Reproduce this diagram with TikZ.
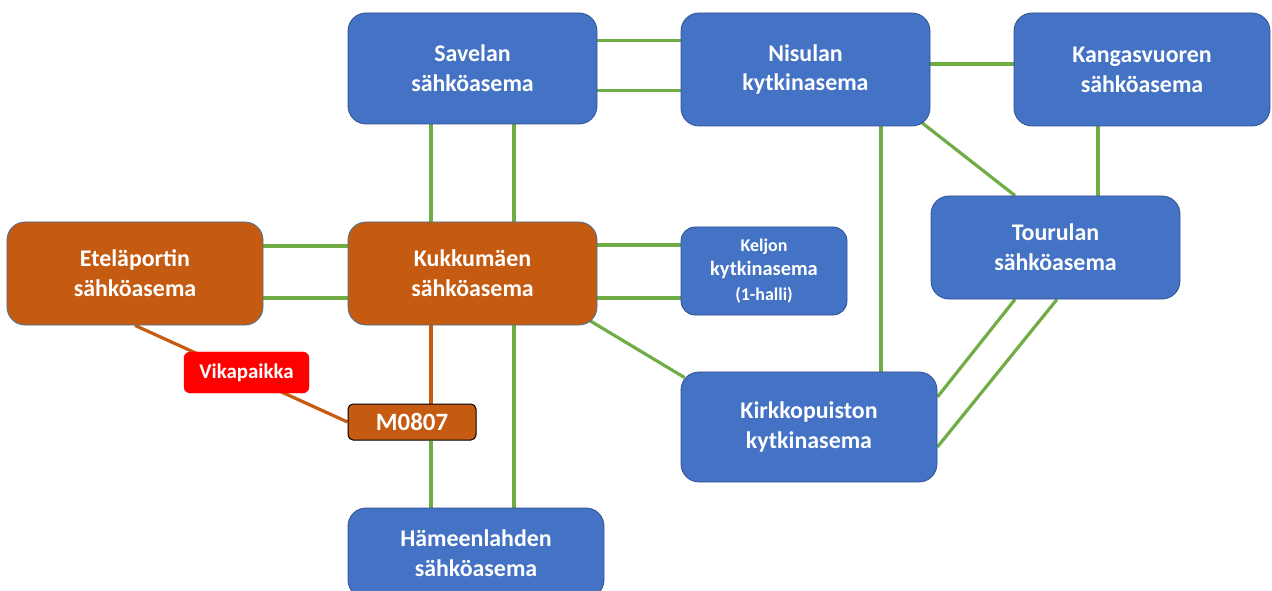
\documentclass[tikz,border=0pt]{standalone}
\usepackage{fontspec}
\setmainfont{Carlito}
\usepackage{xcolor}
\definecolor{stn}{RGB}{68,114,196}
\definecolor{stnB}{RGB}{47,82,143}
\definecolor{flt}{RGB}{197,90,17}
\definecolor{fltB}{RGB}{65,113,156}
\definecolor{lnk}{RGB}{112,173,71}
\definecolor{vik}{RGB}{255,0,0}
\usetikzlibrary{positioning,calc,backgrounds}

\begin{document}
\begin{tikzpicture}[x=1bp, y=-1bp,
  font=\bfseries\fontsize{24}{30}\selectfont,
  station/.style={draw=stnB, line width=0.8bp, fill=stn, text=white, rounded corners=18bp, align=center, inner sep=2bp},
  hit/.style={station, draw=fltB, fill=flt},
  switchbox/.style={draw=black, line width=1bp, fill=flt, text=white, rounded corners=5bp, inner sep=1bp, font=\bfseries\fontsize{25}{30}\selectfont},
  faultbox/.style={draw=vik, fill=vik, text=white, rounded corners=6bp, inner sep=1bp, font=\bfseries\fontsize{21}{24}\selectfont},
  link/.style={draw=lnk, line width=3.2bp},
  feed/.style={draw=flt, line width=3.2bp}]
\useasboundingbox (0,0) rectangle (1272,591);
% stations
\node[station, minimum width=249bp, minimum height=111bp] (sav) at (472.5,68.5) {Savelan\\sähköasema};
\node[station, minimum width=249bp, minimum height=113bp] (nis) at (805.5,69.5) {Nisulan\\kytkinasema};
\node[station, minimum width=256bp, minimum height=113bp] (kan) at (1142,69.5) {Kangasvuoren\\sähköasema};
\node[hit, minimum width=256bp, minimum height=103bp] (ete) at (135,273.5) {Eteläportin\\sähköasema};
\node[hit, minimum width=249bp, minimum height=103bp] (kuk) at (472.5,273.5) {Kukkumäen\\sähköasema};
\node[station, rounded corners=14bp, minimum width=166bp, minimum height=88bp,
  font=\bfseries\fontsize{20.5}{24.5}\selectfont] (kel) at (764,271)
  {{\fontsize{18}{24.5}\selectfont Keljon}\\kytkinasema\\{\fontsize{18}{24.5}\selectfont (1-halli)}};
\node[station, minimum width=249bp, minimum height=103bp] (tou) at (1055.5,247.5) {Tourulan\\sähköasema};
\node[station, minimum width=256bp, minimum height=110bp] (kir) at (809,427) {Kirkkopuiston\\kytkinasema};
\node[station, minimum width=256bp, minimum height=90bp] (ham) at (476,553) {Hämeenlahden\\sähköasema};
\node[switchbox, minimum width=128bp, minimum height=36bp] (m08) at (412,422) {M0807};
% fault path
\begin{scope}[on background layer]
\draw[feed] (ete.south) -- (m08.west);
\draw[feed] ([xshift=-41.5bp]kuk.south) -- ([xshift=-41.5bp]kuk.south |- m08.north);
\end{scope}
\node[faultbox, minimum width=125bp, minimum height=41bp] (vk) at (246.5,372.5) {Vikapaikka};
% connections
\begin{scope}[on background layer]
\draw[link] ([yshift=28bp]sav.east) -- ([yshift=28bp]sav.east -| nis.west);
\draw[link] ([yshift=-22bp]sav.east) -- ([yshift=-22bp]sav.east -| nis.west);
\draw[link] ([yshift=5.5bp]nis.east) -- ([yshift=5.5bp]nis.east -| kan.west);
\draw[link] ([xshift=-41.5bp]sav.south) -- ([xshift=-41.5bp]kuk.north);
\draw[link] ([xshift=41.5bp]sav.south) -- ([xshift=41.5bp]kuk.north);
\draw[link] ([xshift=-44bp]kan.south) -- ([xshift=-44bp]kan.south |- tou.north);
\draw[link] ([xshift=116bp,yshift=4bp]nis.south) -- ([xshift=-40.5bp]tou.north);
\draw[link] ([xshift=75.5bp]nis.south) -- ([xshift=75.5bp]nis.south |- kir.north);
\draw[link] ([yshift=27.5bp]ete.east) -- ([yshift=27.5bp]kuk.west);
\draw[link] ([yshift=-24.5bp]ete.east) -- ([yshift=-24.5bp]kuk.west);
\draw[link] ([yshift=28.5bp]kuk.east) -- ([yshift=28.5bp]kuk.east -| kel.west);
\draw[link] ([yshift=-24.5bp]kuk.east) -- ([yshift=-24.5bp]kuk.east -| kel.west);
\draw[link] ([xshift=-8bp,yshift=5bp]kuk.south east) -- ([xshift=4bp,yshift=-6bp]kir.north west);
\draw[link] ([xshift=-40.5bp]tou.south) -- ([yshift=30bp]kir.east);
\draw[link] ([xshift=1.5bp]tou.south) -- ([yshift=-20bp]kir.east);
\draw[link] ([xshift=19bp]m08.south) -- ([xshift=19bp]m08.south |- ham.north);
\draw[link] ([xshift=41.5bp]kuk.south) -- ([xshift=41.5bp]kuk.south |- ham.north);
\end{scope}
\end{tikzpicture}
\end{document}
